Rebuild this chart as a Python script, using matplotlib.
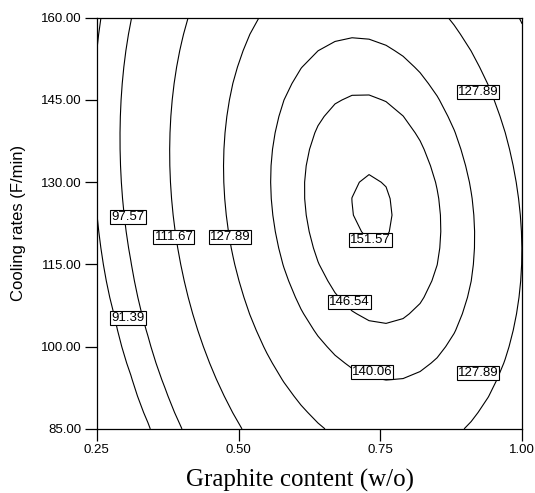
import numpy as np
import matplotlib.pyplot as plt

# points: graphite (w/o), cooling rate (F/min)
lev_151 = [(0.737, 131.7), (0.702, 126.8), (0.776, 125.5), (0.737, 118.2)]
lev_146 = [(0.700, 145.4), (0.622, 125.5), (0.855, 126.8), (0.772, 104.0), (0.696, 108.2)]
lev_140 = [(0.696, 156.0), (0.561, 120.8), (0.917, 120.8), (0.772, 93.6), (0.735, 95.4)]
lev_127 = [(0.878, 160.0), (0.922, 146.5), (1.0, 128.1), (1.0, 106.7), (0.922, 95.2),
           (0.914, 85.2), (0.534, 160.0), (0.485, 139.0), (0.485, 120.8), (0.546, 99.4),
           (0.644, 85.2)]
lev_111 = [(0.405, 160.0), (0.382, 129.9), (0.386, 120.0), (0.497, 85.2)]
lev_97 = [(0.305, 160.0), (0.287, 129.9), (0.305, 123.7), (0.391, 85.2)]
lev_91 = [(0.255, 160.0), (0.25, 150.5), (0.25, 128.6), (0.287, 105.3), (0.347, 85.2)]

levels = [91.39, 97.57, 111.67, 127.89, 140.06, 146.54, 151.57]
groups = [lev_91, lev_97, lev_111, lev_127, lev_140, lev_146, lev_151]

# estimated peak of the response and how fast it flattens away from it
peak_xy = (0.740, 125.0)
peak_z = 152.13
flat = 0.0038

# label positions
lab_text = ["97.57", "111.67", "127.89", "91.39", "151.57", "146.54", "140.06", "127.89", "127.89"]
lab_x = [0.305, 0.386, 0.485, 0.305, 0.732, 0.696, 0.735, 0.922, 0.922]
lab_y = [123.7, 120.0, 120.0, 105.3, 119.5, 108.2, 95.4, 146.5, 95.2]


def to_q(z):
    # response z = peak - q + flat*q^2  ->  q
    return (1 - np.sqrt(1 - 4 * flat * (peak_z - np.asarray(z)))) / (2 * flat)


def terms(a, b):
    a = (a - 0.625) / 0.375
    b = (b - 122.5) / 37.5
    return np.stack([np.ones_like(a), a, b, a * a, b * b, a * b], axis=-1)


xs, ys, qs = [], [], []
for lv, g in zip(levels, groups):
    for px, py in g:
        xs.append(px); ys.append(py); qs.append(to_q(lv))
xs.append(peak_xy[0]); ys.append(peak_xy[1]); qs.append(0.0)
xs = np.array(xs); ys = np.array(ys); qs = np.array(qs)

# weighted fit so every ring counts about the same in distance
w = 1 / np.sqrt(qs + 0.3)
coef, *_ = np.linalg.lstsq(terms(xs, ys) * w[:, None], qs * w, rcond=None)

# coarse grid like the original software, gives the slightly faceted lines
gx = np.linspace(0.25, 1.0, 26)
gy = np.linspace(85, 160, 26)
X, Y = np.meshgrid(gx, gy)
Q = terms(X, Y) @ coef
Z = peak_z - Q + flat * Q ** 2

fig = plt.figure(figsize=(5.35, 4.93), dpi=100)
ax = fig.add_axes([0.181, 0.130, 0.795, 0.834])
ax.contour(X, Y, Z, levels=levels, colors="black", linewidths=0.8)

for t, x, y in zip(lab_text, lab_x, lab_y):
    ax.text(x, y, t, fontsize=9.5, family="Liberation Sans", ha="center", va="center",
            bbox=dict(facecolor="white", edgecolor="black", linewidth=0.8, pad=0.8))

ax.set_xlim(0.25, 1.0)
ax.set_ylim(85, 160)
ax.set_xticks([0.25, 0.50, 0.75, 1.00])
ax.set_yticks([85, 100, 115, 130, 145, 160])
ax.set_xticklabels(["0.25", "0.50", "0.75", "1.00"], family="Liberation Sans", fontsize=9.5)
ax.set_yticklabels(["85.00", "100.00", "115.00", "130.00", "145.00", "160.00"],
                   family="Liberation Sans", fontsize=9.5)
ax.tick_params(direction="out", length=8.5, width=0.9, pad=2.5)
for s in ax.spines.values():
    s.set_linewidth(0.9)

ax.set_xlabel("Graphite content (w/o)", family="Liberation Serif", fontsize=18)
ax.xaxis.set_label_coords(0.477, -0.098, transform=ax.transAxes)
ax.xaxis.label.set_va("top")
ax.set_ylabel("Cooling rates (F/min)", family="Liberation Sans", fontsize=12, labelpad=11)

plt.savefig("out.png", dpi=100)
